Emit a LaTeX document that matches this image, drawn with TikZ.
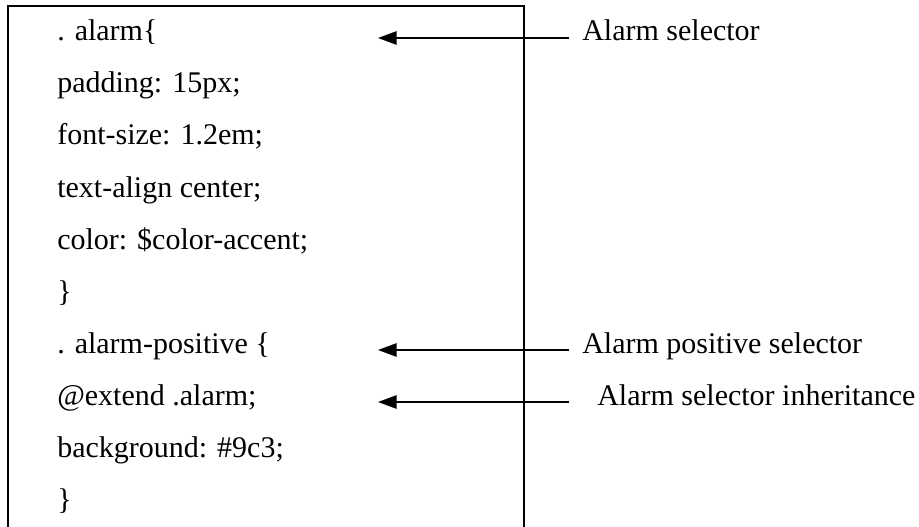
\documentclass[tikz,border=0pt]{standalone}
\usepackage{fontspec}
\setmainfont{Liberation Serif}
\usetikzlibrary{arrows.meta}

\begin{document}
\begin{tikzpicture}[
  x=0.75pt, y=-0.75pt,
  code/.style={anchor=west, inner sep=0pt, text height=0.7em, text depth=0.25em, font=\fontsize{22.5}{27}\selectfont},
  lab/.style={code},
  frame/.style={line width=1.3pt},
  arr/.style={-{Triangle[length=14pt,width=10pt]}, line width=1.4pt}
]
\useasboundingbox (0,0) rectangle (919,527);

% open frame round the code
\draw[frame] (8,530) -- (8,6) -- (524,6) -- (524,530);

\node[code] (alarm) at (57,38) {. alarm\{};
\node[code] (padding) at (57,90) {padding: 15px;};
\node[code] (fontsize) at (57,142) {font-size: 1.2em;};
\node[code] (textalign) at (57,194) {text-align center;};
\node[code] (color) at (57,246) {color: \$color-accent;};
\node[code] (close1) at (57,298) {\}};
\node[code] (positive) at (57,350) {. alarm-positive \{};
\node[code] (extend) at (57,402) {@extend .alarm;};
\node[code] (background) at (57,454) {background: \#9c3;};
\node[code] (close2) at (57,506) {\}};

\node[lab] (selector) at (582,38) {Alarm selector};
\node[lab] (posselector) at (582,350) {Alarm positive selector};
\node[lab] (inherit) at (597,402) {Alarm selector inheritance};

\coordinate (tip1) at (378,38);
\coordinate (tip2) at (378,350);
\coordinate (tip3) at (378,402);

\draw[arr] ([xshift=-10pt]selector.west) -- (tip1);
\draw[arr] ([xshift=-10pt]posselector.west) -- (tip2);
\draw[arr] ([xshift=-21pt]inherit.west) -- (tip3);
\end{tikzpicture}
\end{document}
